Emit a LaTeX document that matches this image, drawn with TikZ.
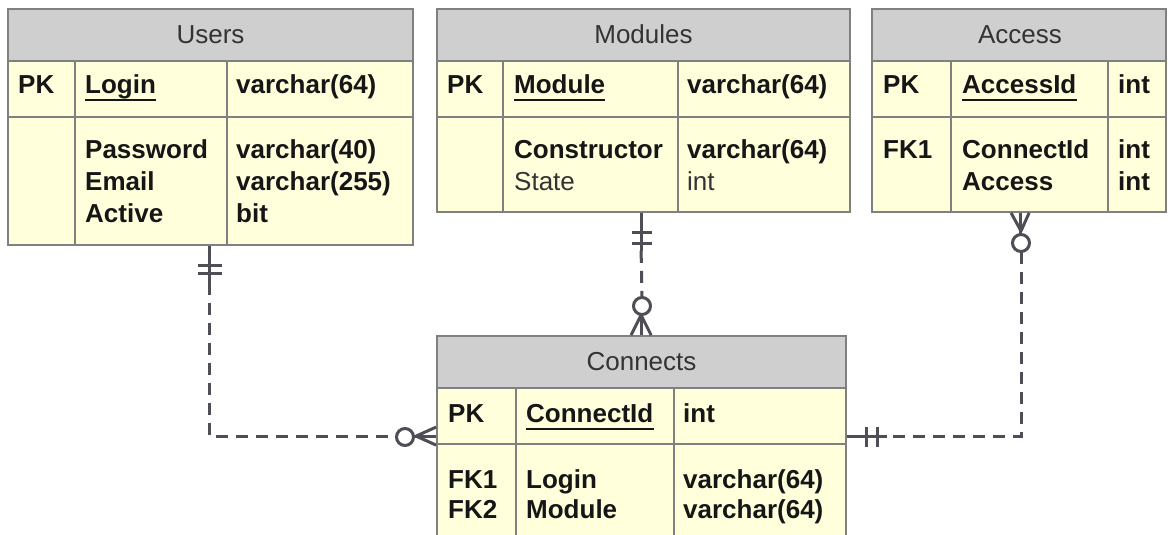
\documentclass[tikz,border=0pt]{standalone}
\usepackage{fontspec}
\setmainfont{Liberation Sans}
\usetikzlibrary{fit}
\definecolor{hdrfill}{HTML}{CFCFCF}
\definecolor{bodyfill}{HTML}{FFFFDC}
\definecolor{framecol}{HTML}{808080}
\definecolor{conncol}{HTML}{4E4E56}
\definecolor{txtcol}{HTML}{161616}
\definecolor{hdrtxt}{HTML}{333333}
\tikzset{
  frame/.style={draw=framecol, line width=1.8pt, inner sep=0pt},
  gridline/.style={draw=framecol, line width=1.8pt},
  title/.style={font=\fontsize{26}{30}\selectfont, text=hdrtxt, inner sep=0pt, anchor=base},
  ftxt/.style={font=\fontsize{26}{30}\selectfont\bfseries, text=txtcol, inner sep=0pt, anchor=base west},
  ntxt/.style={font=\fontsize{26}{30}\selectfont, text=hdrtxt, inner sep=0pt, anchor=base west},
  conn/.style={draw=conncol, line width=3pt},
  dconn/.style={conn, dash pattern=on 12pt off 8pt},
  uline/.style={draw=txtcol, line width=1.9pt}
}
\newcommand{\ertable}[9]{%
  \fill[bodyfill] (#2,#6) rectangle (#4,#5);
  \fill[hdrfill] (#2,#3) rectangle (#4,#6);
  \draw[gridline] (#2,#6) -- (#4,#6) (#2,#7) -- (#4,#7) (#8,#6) -- (#8,#5) (#9,#6) -- (#9,#5);
  \node[frame, fit={(#2,#3) (#4,#5)}] (#1) {};
}
\begin{document}
\begin{tikzpicture}[x=1pt,y=-1pt]
\useasboundingbox (0,0) rectangle (1168,535);
\fill[white] (0,0) rectangle (1168,535);
\begin{scope}
\clip (0,0) rectangle (1168,535);
% tables
\ertable{users}{8}{9}{413}{245}{61}{117}{75}{227}
\ertable{modules}{437}{9}{850}{212}{61}{117}{503}{678}
\ertable{access}{872}{9}{1166}{212}{61}{117}{951}{1108}
\ertable{connects}{437}{336}{846}{570}{388}{444}{516}{674}

% Users
\node[title] (tu) at (210.5,44) {Users};
\node[ftxt] (u1) at (18,93) {PK};
\node[ftxt] (u2) at (85,93) {Login};
\node[ftxt] (u3) at (236,93) {varchar(64)};
\node[ftxt] (u4) at (85,158) {Password};
\node[ftxt] (u5) at (85,190) {Email};
\node[ftxt] (u6) at (85,222) {Active};
\node[ftxt] (u7) at (236,158) {varchar(40)};
\node[ftxt] (u8) at (236,190) {varchar(255)};
\node[ftxt] (u9) at (236,222) {bit};
\draw[uline] ([yshift=-7pt]u2.base west) -- ([yshift=-7pt]u2.base east);

% Modules
\node[title] (tm) at (643.5,44) {Modules};
\node[ftxt] (m1) at (447,93) {PK};
\node[ftxt] (m2) at (514,93) {Module};
\node[ftxt] (m3) at (687,93) {varchar(64)};
\node[ftxt] (m4) at (514,158) {Constructor};
\node[ntxt] (m5) at (514,190) {State};
\node[ftxt] (m6) at (687,158) {varchar(64)};
\node[ntxt] (m7) at (687,190) {int};
\draw[uline] ([yshift=-7pt]m2.base west) -- ([yshift=-7pt]m2.base east);

% Access
\node[title] (ta) at (1020,44) {Access};
\node[ftxt] (a1) at (883,93) {PK};
\node[ftxt] (a2) at (962,93) {AccessId};
\node[ftxt] (a3) at (1118,93) {int};
\node[ftxt] (a4) at (883,158) {FK1};
\node[ftxt] (a5) at (962,158) {ConnectId};
\node[ftxt] (a6) at (962,190) {Access};
\node[ftxt] (a7) at (1118,158) {int};
\node[ftxt] (a8) at (1118,190) {int};
\draw[uline] ([yshift=-7pt]a2.base west) -- ([yshift=-7pt]a2.base east);

% Connects
\node[title] (tc) at (641.5,370) {Connects};
\node[ftxt] (c1) at (448,422) {PK};
\node[ftxt] (c2) at (526,422) {ConnectId};
\node[ftxt] (c3) at (683,422) {int};
\node[ftxt] (c4) at (448,488) {FK1};
\node[ftxt] (c5) at (448,518) {FK2};
\node[ftxt] (c6) at (526,488) {Login};
\node[ftxt] (c7) at (526,518) {Module};
\node[ftxt] (c8) at (683,488) {varchar(64)};
\node[ftxt] (c9) at (683,518) {varchar(64)};
\draw[uline] ([yshift=-7pt]c2.base west) -- ([yshift=-7pt]c2.base east);

% Connector Users -> Connects
\coordinate (p1) at ([xshift=202pt]users.south west);
\coordinate (p2) at ([yshift=-101pt]connects.north west);
\draw[conn] (p1) -- ++(0,37);
\draw[conn] (198,265) -- (222,265) (198,273) -- (222,273);
\draw[dconn] ([yshift=-37pt]p1) |- ([xshift=-40pt]p2);
\draw[conn] (405,437) circle (8.5pt);
\draw[conn] ([xshift=-22pt]p2) -- (p2);
\draw[conn] ([xshift=-20pt]p2) -- ([yshift=9pt]p2) ([xshift=-20pt]p2) -- ([yshift=-9pt]p2);

% Connector Modules -> Connects
\coordinate (q1) at ([xshift=205pt]modules.south west);
\coordinate (q2) at ([xshift=205pt]connects.north west);
\draw[conn] (q1) -- ++(0,38);
\draw[conn] (632,232) -- (652,232) (632,243) -- (652,243);
\draw[dconn] ([yshift=-38pt]q1) -- (642,297);
\draw[conn] (642,306) circle (8.5pt);
\draw[conn] ([yshift=22pt]q2) -- (q2);
\draw[conn] ([yshift=20pt]q2) -- ([xshift=-10pt]q2) ([yshift=20pt]q2) -- ([xshift=10pt]q2);

% Connector Access -> Connects
\coordinate (r1) at ([xshift=149pt]access.south west);
\coordinate (r2) at ([yshift=-101pt]connects.north east);
\draw[conn] (r1) -- ++(0,22);
\draw[conn] ([xshift=-9pt]r1) -- (1021,231) ([xshift=9pt]r1) -- (1021,231);
\draw[conn] (1021,243) circle (8.5pt);
\draw[dconn] (1021,252) |- ([xshift=40pt]r2);
\draw[conn] ([xshift=40pt]r2) -- (r2);
\draw[conn] (866,427) -- (866,447) (877,427) -- (877,447);
\end{scope}
\end{tikzpicture}
\end{document}
